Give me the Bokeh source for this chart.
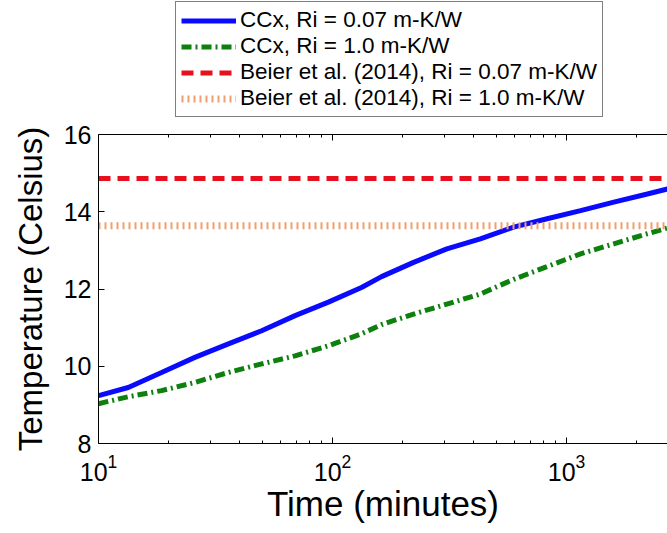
from bokeh.plotting import figure
from bokeh.layouts import column
from bokeh.models import Legend, LegendItem, LinearAxis, Range1d, FixedTicker
from bokeh.embed import file_html
from bokeh.resources import INLINE

# ---- data ----
time_min = [10, 13.4, 18.6, 25.8, 35.9, 49.8, 69.2, 96, 133, 162, 222, 308, 428, 594, 826, 1148, 1592, 2213, 2700]
ccx_ri007 = [9.24, 9.45, 9.84, 10.23, 10.58, 10.92, 11.31, 11.66, 12.04, 12.32, 12.69, 13.04, 13.30, 13.60, 13.82, 14.03, 14.25, 14.46, 14.59]
ccx_ri10 = [9.03, 9.21, 9.37, 9.58, 9.84, 10.06, 10.27, 10.53, 10.84, 11.08, 11.35, 11.61, 11.87, 12.25, 12.58, 12.91, 13.17, 13.43, 13.58]
beier_ri007 = 14.86
beier_ri10 = 13.64
beier_span = [10, 2700]

labels = ["CCx, Ri = 0.07 m-K/W", "CCx, Ri = 1.0 m-K/W",
          "Beier et al. (2014), Ri = 0.07 m-K/W", "Beier et al. (2014), Ri = 1.0 m-K/W"]
x_ticks = [10, 100, 1000]
x_minor = [m * d for d in (10, 100, 1000) for m in range(2, 10) if m * d <= 2700]
y_ticks = [8, 10, 12, 14, 16]

FONT = "Liberation Sans"
STYLES = [dict(line_color="#0a0aff", line_width=5),
          dict(line_color="#0e800e", line_width=5, line_dash="10 4 2 4"),
          dict(line_color="#e8101c", line_width=5, line_dash="12 7"),
          dict(line_color="#f0a070", line_width=7, line_dash="2 4")]
SERIES = [(time_min, ccx_ri007), (time_min, ccx_ri10),
          (beier_span, [beier_ri007, beier_ri007]), (beier_span, [beier_ri10, beier_ri10])]

LEGEND_H = 118

# ---------------- main plot ----------------
p = figure(width=667, height=533 - LEGEND_H, x_axis_type="log",
           x_range=Range1d(10, 2700), y_range=Range1d(8, 16),
           output_backend="svg", toolbar_location=None,
           min_border_left=98, min_border_top=134 - LEGEND_H, min_border_bottom=90, min_border_right=0,
           background_fill_color="white", border_fill_color="white")
p.outline_line_color = None
p.grid.visible = False

for (xs, ys), s in zip(SERIES, STYLES):
    p.line(xs, ys, **s)

xa = p.xaxis[0]
xa.ticker = FixedTicker(ticks=x_ticks, minor_ticks=x_minor)
xa.axis_label = "Time (minutes)"
ya = p.yaxis[0]
ya.ticker = FixedTicker(ticks=y_ticks)
ya.axis_label = "Temperature (Celsius)"
for ax in (xa, ya):
    ax.axis_label_text_font = FONT
    ax.axis_label_text_font_size = "35px"
    ax.axis_label_text_font_style = "normal"
    ax.axis_label_text_color = "black"
    ax.major_label_text_font = FONT
    ax.major_label_text_font_size = "25px"
    ax.major_label_text_color = "black"
    ax.axis_line_color = "black"
    ax.major_tick_line_color = "black"
    ax.minor_tick_line_color = "black"
    ax.major_tick_in = 6
    ax.major_tick_out = 0
    ax.minor_tick_in = 3
    ax.minor_tick_out = 0
ya.axis_label_text_font_size = "33px"
ya.minor_tick_line_color = None
ya.major_label_standoff = 7
ya.axis_label_standoff = 12
xa.major_label_standoff = 10
xa.axis_label_standoff = 0

top = LinearAxis(ticker=FixedTicker(ticks=x_ticks, minor_ticks=x_minor),
                 major_label_text_color=None, major_label_text_font_size="1px",
                 major_label_standoff=0, axis_line_color="black",
                 major_tick_in=6, major_tick_out=0, minor_tick_in=3, minor_tick_out=0)
p.add_layout(top, "above")

# ---------------- legend strip above the plot ----------------
lg = figure(width=667, height=LEGEND_H, x_range=Range1d(0, 1), y_range=Range1d(0, 1),
            output_backend="svg", toolbar_location=None,
            min_border_left=0, min_border_right=0, min_border_top=0, min_border_bottom=0,
            background_fill_color="white", border_fill_color="white")
lg.axis.visible = False
lg.grid.visible = False
lg.outline_line_color = None
# same series, drawn outside this strip's ranges, so only their legend glyphs show
proxies = [lg.line(xs, ys, **s) for (xs, ys), s in zip(SERIES, STYLES)]

legend = Legend(items=[LegendItem(label=lab, renderers=[r]) for lab, r in zip(labels, proxies)],
                location=(77, 1), orientation="vertical",
                label_text_font=FONT, label_text_font_size="22.5px", label_text_color="black",
                glyph_width=55, glyph_height=25, label_height=25, label_standoff=4,
                spacing=0, padding=5, margin=0,
                border_line_color="black", border_line_width=1,
                background_fill_color="white", background_fill_alpha=1)
lg.add_layout(legend, "center")

layout = column(lg, p, spacing=0)
open("out.html", "w").write(file_html(layout, INLINE))
